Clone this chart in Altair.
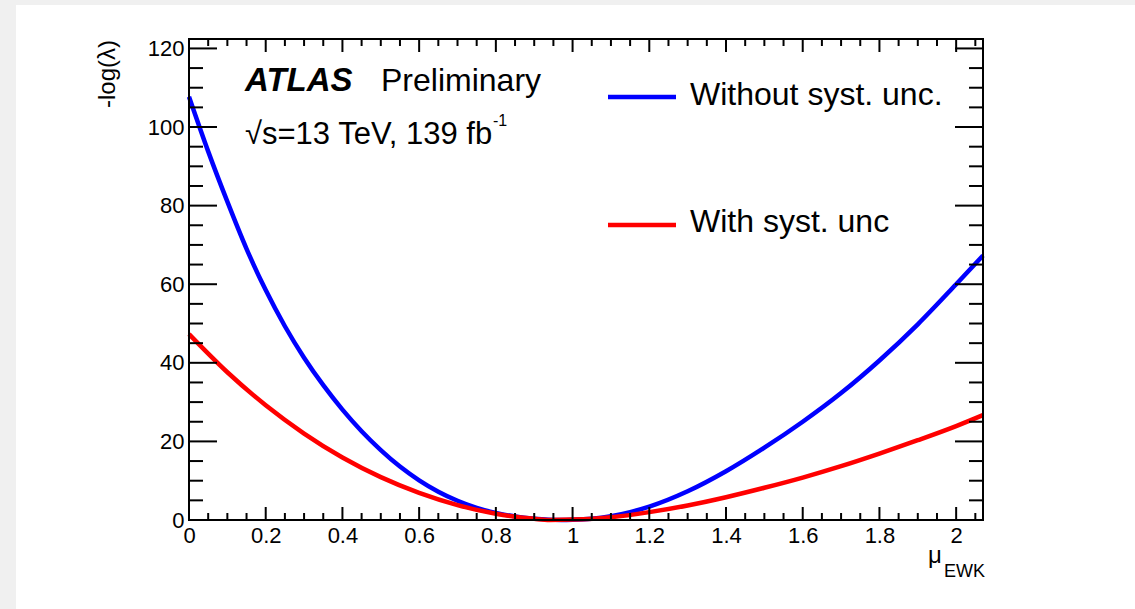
import altair as alt
import pandas as pd

# Profile-likelihood scans of the EWK signal strength
mu_stat = [0.0, 0.05, 0.1, 0.15, 0.2, 0.25, 0.3, 0.35, 0.4, 0.45, 0.5, 0.55, 0.6,
           0.65, 0.7, 0.75, 0.8, 0.85, 0.9, 0.97, 1.0, 1.05, 1.1, 1.15, 1.2, 1.3,
           1.4, 1.5, 1.6, 1.7, 1.8, 1.9, 2.0, 2.07]
nll_stat = [107.7, 93.8, 81.0, 69.0, 58.5, 49.3, 41.3, 34.3, 28.1, 22.6, 17.8, 13.6,
            10.1, 7.2, 4.9, 3.1, 1.8, 0.9, 0.35, 0.0, 0.05, 0.3, 0.95, 2.0, 3.4,
            7.3, 12.4, 18.4, 25.0, 32.3, 40.6, 49.8, 60.0, 67.3]

mu_syst = [0.0, 0.1, 0.2, 0.3, 0.4, 0.5, 0.6, 0.7, 0.8, 0.9, 0.94,
           1.0, 1.1, 1.2, 1.3, 1.4, 1.5, 1.6, 1.7, 1.8, 1.9, 2.0, 2.07]
nll_syst = [47.3, 37.6, 29.2, 22.0, 15.9, 10.9, 6.9, 3.8, 1.6, 0.3, 0.0,
            0.1, 0.7, 2.0, 3.7, 5.8, 8.2, 10.8, 13.7, 16.9, 20.3, 23.9, 26.7]

series_names = ["Without syst. unc.", "With syst. unc"]
series_colors = ["#0000ff", "#ff0000"]

# Axis ticks (inward ticks on all four sides of the frame)
x_major = [0, 0.2, 0.4, 0.6, 0.8, 1.0, 1.2, 1.4, 1.6, 1.8, 2.0]
x_minor = [0.05, 0.1, 0.15, 0.25, 0.3, 0.35, 0.45, 0.5, 0.55, 0.65, 0.7, 0.75,
           0.85, 0.9, 0.95, 1.05, 1.1, 1.15, 1.25, 1.3, 1.35, 1.45, 1.5, 1.55,
           1.65, 1.7, 1.75, 1.85, 1.9, 1.95, 2.05]
y_major = [0, 20, 40, 60, 80, 100, 120]
y_minor = [5, 10, 15, 25, 30, 35, 45, 50, 55, 65, 70, 75, 85, 90, 95,
           105, 110, 115]

W, H = 794, 481
LEFT, TOP = 189, 39
FONT = "Liberation Sans"

curves = pd.concat([
    pd.DataFrame({"mu": mu_stat, "nll": nll_stat, "series": series_names[0]}),
    pd.DataFrame({"mu": mu_syst, "nll": nll_syst, "series": series_names[1]}),
])

xs = alt.Scale(domain=[0, 2.07], nice=False, zero=False)
ys = alt.Scale(domain=[0, 122.4], nice=False, zero=False)

one = pd.DataFrame({"k": [0]})

# light grey page margin along the top and left edges
margin = (
    alt.Chart(one).mark_rect(fill="#f0f0f0").encode(
        x=alt.value(-LEFT), x2=alt.value(1135 - LEFT),
        y=alt.value(-TOP), y2=alt.value(5 - TOP))
    + alt.Chart(one).mark_rect(fill="#f0f0f0").encode(
        x=alt.value(-LEFT), x2=alt.value(16 - LEFT),
        y=alt.value(-TOP), y2=alt.value(609 - TOP))
)

lines = alt.Chart(curves).mark_line(strokeWidth=4.5, interpolate="monotone").encode(
    x=alt.X("mu:Q", scale=xs,
            axis=alt.Axis(values=x_major, format="~g", domain=False, ticks=False,
                          grid=False, labelFontSize=22, labelPadding=5,
                          labelFlush=False, labelOverlap=False, labelFont=FONT,
                          labelColor="black", title=None, zindex=2)),
    y=alt.Y("nll:Q", scale=ys,
            axis=alt.Axis(values=y_major, domain=False, ticks=False, grid=False,
                          labelFontSize=22, labelPadding=5, labelFont=FONT,
                          labelColor="black", labelOverlap=False, title=None,
                          zindex=2)),
    color=alt.Color("series:N", scale=alt.Scale(domain=series_names, range=series_colors),
                    legend=None),
    order=alt.Order("mu:Q"),
)

frame = alt.Chart(one).mark_rect(fill=None, stroke="black", strokeWidth=2).encode(
    x=alt.value(0), x2=alt.value(W), y=alt.value(0), y2=alt.value(H))


def xticks(values, length):
    base = alt.Chart(pd.DataFrame({"v": values})).mark_rule(color="black", strokeWidth=2)
    bottom = base.encode(x=alt.X("v:Q", scale=xs), y=alt.value(H), y2=alt.value(H - length))
    top = base.encode(x=alt.X("v:Q", scale=xs), y=alt.value(0), y2=alt.value(length))
    return bottom + top


def yticks(values, length):
    base = alt.Chart(pd.DataFrame({"v": values})).mark_rule(color="black", strokeWidth=2)
    left = base.encode(y=alt.Y("v:Q", scale=ys), x=alt.value(0), x2=alt.value(length))
    right = base.encode(y=alt.Y("v:Q", scale=ys), x=alt.value(W), x2=alt.value(W - length))
    return left + right


ticks = xticks(x_major, 13) + xticks(x_minor, 7) + yticks(y_major, 28) + yticks(y_minor, 14)


def label(text, x, y, size, **kw):
    return alt.Chart(one).mark_text(text=text, font=FONT, fontSize=size, color="black",
                                    align=kw.pop("align", "left"),
                                    baseline=kw.pop("baseline", "alphabetic"), **kw).encode(
        x=alt.value(x - LEFT), y=alt.value(y - TOP))


texts = (
    label("ATLAS", 245, 91, 33, fontWeight="bold", fontStyle="italic")
    + label("Preliminary", 381, 91, 32)
    + label("\u221as=13 TeV, 139 fb", 245, 144, 31)
    + label("-1", 493, 126, 16)
    + label("Without syst. unc.", 690, 105, 32)
    + label("With syst. unc", 690, 232, 32)
    + label("\u03bc", 928, 563, 24)
    + label("EWK", 944, 577, 18)
    + label("-log(\u03bb)", 108, 40, 24, angle=270, align="right", baseline="middle")
)

legend_lines = (
    alt.Chart(one).mark_rule(color=series_colors[0], strokeWidth=4.5).encode(
        x=alt.value(608 - LEFT), x2=alt.value(676 - LEFT), y=alt.value(97 - TOP))
    + alt.Chart(one).mark_rule(color=series_colors[1], strokeWidth=4.5).encode(
        x=alt.value(608 - LEFT), x2=alt.value(676 - LEFT), y=alt.value(225 - TOP))
)

chart = alt.layer(margin, lines, frame, ticks, legend_lines, texts).properties(
    width=W, height=H,
    padding={"left": LEFT, "top": TOP, "right": 1135 - LEFT - W, "bottom": 609 - TOP - H},
    autosize=alt.AutoSizeParams(type="none"),
    background="white",
).configure_view(stroke=None)

chart.save("out.html", embed_options={"renderer": "svg", "actions": False})
